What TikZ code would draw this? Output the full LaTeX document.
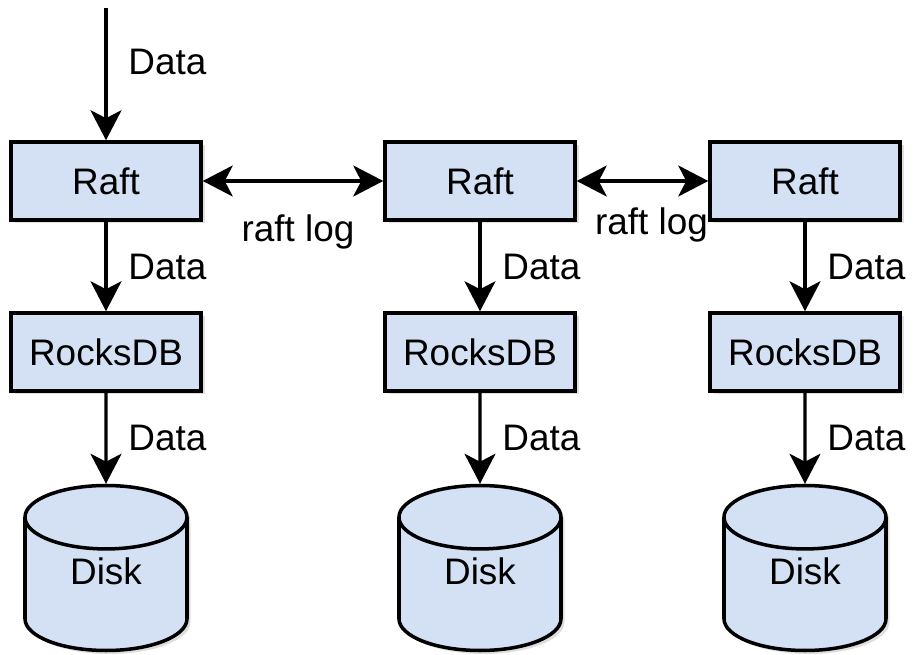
\documentclass[tikz,border=0pt]{standalone}
\usepackage{fontspec}
\setmainfont{Liberation Sans}
\usetikzlibrary{arrows.meta,positioning,shapes.geometric,shadows}
\definecolor{kutuMavi}{HTML}{D4E1F5}

\begin{document}
\begin{tikzpicture}[every node/.style={font=\fontsize{21}{25}\selectfont},
  layer/.style={draw=black,fill=kutuMavi,line width=2pt,
                minimum width=3.8cm,minimum height=1.56cm,
                drop shadow={shadow xshift=0.07cm,shadow yshift=-0.07cm,opacity=0.25}},
  store/.style={cylinder,shape border rotate=90,shape aspect=0.76,draw=black,fill=kutuMavi,
                line width=2pt,minimum width=3.24cm,minimum height=3.3cm,anchor=shape center,
                drop shadow={shadow xshift=0.07cm,shadow yshift=-0.07cm,opacity=0.25}},
  flow/.style={-{Stealth[length=0.6cm,width=0.62cm,inset=0.16cm]},line width=1.8pt},
  sync/.style={{Stealth[length=0.6cm,width=0.62cm,inset=0.16cm]}-{Stealth[length=0.6cm,width=0.62cm,inset=0.16cm]},line width=1.8pt}]
\useasboundingbox (0,0) rectangle (18.26,13.1);
% leader
\coordinate (in) at (2.12,12.94);
\node[layer] (raftA) at (2.12,9.48) {Raft};
\node[layer] (rocksA) at (2.12,6.06) {RocksDB};
\node[store,label={[anchor=center,yshift=-0.06cm]shape center:Disk}] (diskA) at (2.12,1.74) {\phantom{Disk}};
\draw[flow] (in)--node[pos=0.41,right=0.3cm]{Data}(raftA);
\draw[flow] (raftA)--node[right=0.3cm]{Data}(rocksA);
\draw[flow] (rocksA)--node[right=0.3cm]{Data}(diskA);
% follower 1
\node[layer] (raftB) at (9.6,9.48) {Raft};
\node[layer] (rocksB) at (9.6,6.06) {RocksDB};
\node[store,label={[anchor=center,yshift=-0.06cm]shape center:Disk}] (diskB) at (9.6,1.74) {\phantom{Disk}};
\draw[flow] (raftB)--node[right=0.3cm]{Data}(rocksB);
\draw[flow] (rocksB)--node[right=0.3cm]{Data}(diskB);
% follower 2
\node[layer] (raftC) at (16.1,9.48) {Raft};
\node[layer] (rocksC) at (16.1,6.06) {RocksDB};
\node[store,label={[anchor=center,yshift=-0.06cm]shape center:Disk}] (diskC) at (16.1,1.74) {\phantom{Disk}};
\draw[flow] (raftC)--node[right=0.3cm]{Data}(rocksC);
\draw[flow] (rocksC)--node[right=0.3cm]{Data}(diskC);
% replication
\draw[sync] (raftA)--node[xshift=0.1cm,yshift=-1.02cm]{raft log}(raftB);
\draw[sync] (raftB)--node[xshift=0.18cm,yshift=-0.88cm]{raft log}(raftC);
\end{tikzpicture}
\end{document}
